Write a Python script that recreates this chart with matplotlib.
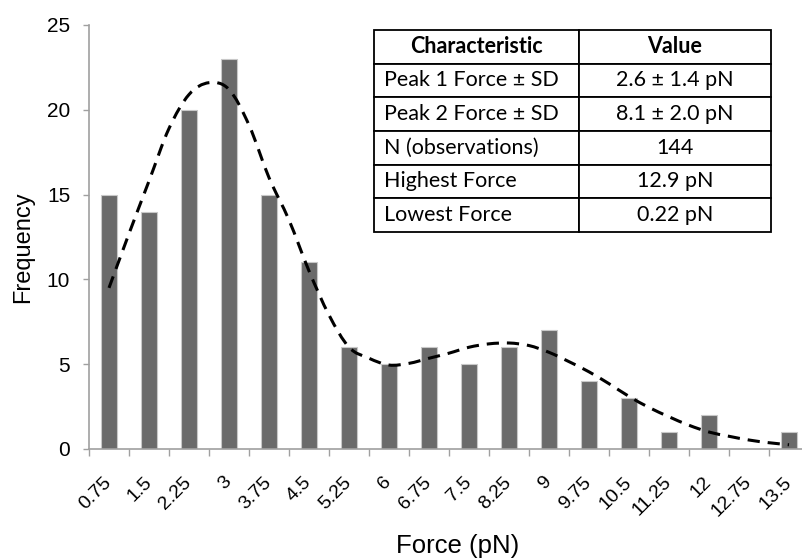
import numpy as np
import matplotlib.pyplot as plt
from matplotlib.path import Path
from matplotlib.patches import PathPatch

plt.rcParams['font.family'] = ['Liberation Sans', 'DejaVu Sans']

# histogram of rupture forces
force_bins = ['0.75', '1.5', '2.25', '3', '3.75', '4.5', '5.25', '6', '6.75', '7.5',
              '8.25', '9', '9.75', '10.5', '11.25', '12', '12.75', '13.5']
frequency = [15, 14, 20, 23, 15, 11, 6, 5, 6, 5, 6, 7, 4, 3, 1, 2, 0, 1]

# fitted two-peak curve, read at every half bin
fit_pos = np.arange(0, 17.5, 0.5)
fit_val = [9.5, 12.7, 15.8, 18.9, 20.9, 21.6, 21.2, 19.1, 16.0, 13.5,
           10.5, 7.9, 6.0, 5.35, 4.95, 5.05, 5.35, 5.65, 6.0, 6.2,
           6.25, 6.1, 5.7, 5.15, 4.55, 3.85, 3.1, 2.45, 1.9, 1.4,
           1.0, 0.75, 0.53, 0.37, 0.25]

table_rows = [['Characteristic', 'Value'],
              ['Peak 1 Force \u00b1 SD', '2.6 \u00b1 1.4 pN'],
              ['Peak 2 Force \u00b1 SD', '8.1 \u00b1 2.0 pN'],
              ['N (observations)', '144'],
              ['Highest Force', '12.9 pN'],
              ['Lowest Force', '0.22 pN']]


def smooth_path(xs, ys):
    # excel-style smoothed line: catmull-rom segments as cubic beziers
    pts = np.column_stack([xs, ys])
    padded = np.vstack([pts[0], pts, pts[-1]])
    verts = [pts[0]]
    codes = [Path.MOVETO]
    for i in range(1, len(padded) - 2):
        p0, p1, p2, p3 = padded[i - 1], padded[i], padded[i + 1], padded[i + 2]
        verts += [p1 + (p2 - p0) / 6, p2 - (p3 - p1) / 6, p2]
        codes += [Path.CURVE4] * 3
    return Path(verts, codes)


fig = plt.figure(figsize=(8.02, 5.6), dpi=100)
ax = fig.add_axes([89 / 802, 111 / 560, 720 / 802, 424 / 560])

x = np.arange(len(force_bins))
ax.bar(x, frequency, width=0.4, color='#6a6a6a', edgecolor='#c8c8c8', linewidth=0.8, zorder=2)
ax.add_patch(PathPatch(smooth_path(fit_pos, fit_val), fill=False, edgecolor='black',
                       linestyle=(0, (4, 2.6)), linewidth=2.2, zorder=3))

ax.set_xlim(-0.5, len(force_bins) - 0.5)
ax.set_ylim(0, 25)
ax.set_yticks([0, 5, 10, 15, 20, 25])
ax.set_xticks(x)
ax.set_xticklabels(force_bins, rotation=45, ha='right', va='center', rotation_mode='anchor')
ax.set_xticks(np.arange(-0.5, len(force_bins), 1.0), minor=True)
ax.tick_params(axis='x', which='major', length=0, pad=22, labelsize=14)
ax.tick_params(axis='x', which='minor', length=5, color='#a0a0a0', width=1)
ax.tick_params(axis='y', length=4.5, color='#a0a0a0', width=1, labelsize=15, pad=9)
for side in ['top', 'right']:
    ax.spines[side].set_visible(False)
for side in ['left', 'bottom']:
    ax.spines[side].set_color('#a0a0a0')
    ax.spines[side].set_linewidth(1.2)

fig.text(458 / 802, 1 - 546 / 560, 'Force (pN)', ha='center', va='center', fontsize=18.5)
fig.text(23 / 802, 1 - 247 / 560, 'Frequency', ha='center', va='center', rotation=90, fontsize=17)

# summary table in the upper right
tab = ax.table(cellText=table_rows, cellLoc='center',
               colWidths=[205 / 720, 192 / 720],
               bbox=[(374 - 89) / 720, (449 - 232) / 424, 397 / 720, 202 / 424])
tab.auto_set_font_size(False)
for (r, c), cell in tab.get_celld().items():
    cell.set_linewidth(1.3)
    cell.set_edgecolor('black')
    cell.set_facecolor('white')
    cell.get_text().set_fontsize(15.5)
    cell.get_text().set_fontfamily(['Lato', 'DejaVu Sans'])
    if r == 0:
        cell.get_text().set_fontweight('bold')
    elif c == 0:
        cell.get_text().set_ha('left')
        cell._loc = 'left'
        cell.PAD = 0.05
tab.set_zorder(5)

fig.savefig('out.png', dpi=100)
